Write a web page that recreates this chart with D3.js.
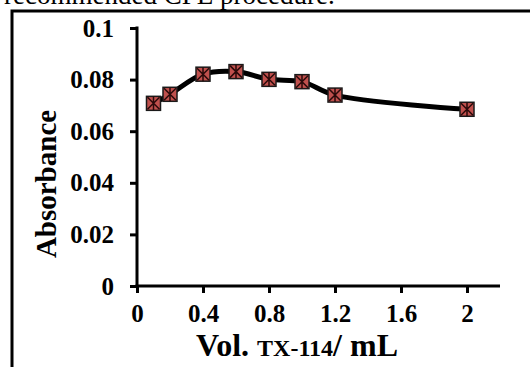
<!DOCTYPE html>
<html>
<head>
<meta charset="utf-8">
<script src="https://cdn.jsdelivr.net/npm/d3@7"></script>
<style>
  body { margin: 0; background: #fff; }
  svg { display: block; font-family: "Liberation Serif", "Times New Roman", serif; }
  .tick text { font-size: 25px; font-weight: bold; }
</style>
</head>
<body>
<svg width="530" height="367"></svg>
<script>
// data
const volumes = [0.1, 0.2, 0.4, 0.6, 0.8, 1.0, 1.2, 2.0]
const absorbance = [0.0708, 0.0743, 0.0821, 0.0831, 0.0801, 0.0792, 0.0740, 0.0685]
const xTicks = [0, 0.4, 0.8, 1.2, 1.6, 2]
const yTicks = [0, 0.02, 0.04, 0.06, 0.08, 0.1]

const svg = d3.select('svg')

// caption text cut by the crop
svg.append('text')
    .attr('x', 4).attr('y', 4)
    .style('font-size', '27px')
    .text('recommended CPE procedure.')

// outer frame (left + top)
svg.append('path')
    .attr('d', 'M12,367 V11 H530')
    .attr('fill', 'none').attr('stroke', '#000').attr('stroke-width', 3)

const x = d3.scaleLinear().domain([0, 2.2]).range([137, 500])
const y = d3.scaleLinear().domain([0, 0.1]).range([286, 28])

const xAxis = svg.append('g')
    .attr('transform', `translate(0,${y(0)})`)
    .call(d3.axisBottom(x).tickValues(xTicks).tickFormat(d3.format('')).tickSizeOuter(0).tickSize(7).tickPadding(11))
const yAxis = svg.append('g')
    .attr('transform', `translate(${x(0)},0)`)
    .call(d3.axisLeft(y).tickValues(yTicks).tickFormat(d3.format('')).tickSizeOuter(0).tickSize(7).tickPadding(16))

xAxis.attr('font-size', 25).attr('font-family', '"Liberation Serif", serif').attr('font-weight', 'bold')
yAxis.attr('font-size', 25).attr('font-family', '"Liberation Serif", serif').attr('font-weight', 'bold')
xAxis.select('.domain').remove()
yAxis.select('.domain').remove()
svg.selectAll('.tick line').attr('stroke-width', 3)
svg.selectAll('.tick text').attr('fill', '#000')

// axis lines drawn explicitly so they are thick
svg.append('line').attr('x1', x(0) - 1.5).attr('x2', x(2.2)).attr('y1', y(0)).attr('y2', y(0))
    .attr('stroke', '#000').attr('stroke-width', 3)
svg.append('line').attr('x1', x(0)).attr('x2', x(0)).attr('y1', y(0.1) - 1.5).attr('y2', y(0))
    .attr('stroke', '#000').attr('stroke-width', 3)

// axis titles
const xt = svg.append('text')
    .attr('x', 297).attr('y', 356)
    .attr('text-anchor', 'middle')
    .style('font-weight', 'bold').style('font-size', '32px')
xt.append('tspan').text('Vol. ')
xt.append('tspan').style('font-size', '24px').text('TX-114')
xt.append('tspan').text('/ mL')

svg.append('text')
    .attr('transform', 'translate(56,184) rotate(-90)')
    .attr('text-anchor', 'middle')
    .style('font-weight', 'bold').style('font-size', '29px')
    .text('Absorbance')

// smoothed line
const pts = volumes.map((v, i) => [v, absorbance[i]])
svg.append('path')
    .datum(pts)
    .attr('fill', 'none').attr('stroke', '#000').attr('stroke-width', 5)
    .attr('d', d3.line().x(d => x(d[0])).y(d => y(d[1])).curve(d3.curveCatmullRom.alpha(0.5)))

// markers: square with star
const m = svg.append('g').selectAll('g')
    .data(pts)
    .join('g')
    .attr('transform', d => `translate(${x(d[0])},${y(d[1])})`)
m.append('rect')
    .attr('x', -7).attr('y', -7).attr('width', 14).attr('height', 14)
    .attr('fill', '#c0504d').attr('stroke', '#1a1a1a').attr('stroke-width', 1.5)
m.append('path')
    .attr('d', 'M-6,-6L6,6M-6,6L6,-6M0,-7V7')
    .attr('stroke', '#2a0a0a').attr('stroke-width', 1.5)
</script>
</body>
</html>
